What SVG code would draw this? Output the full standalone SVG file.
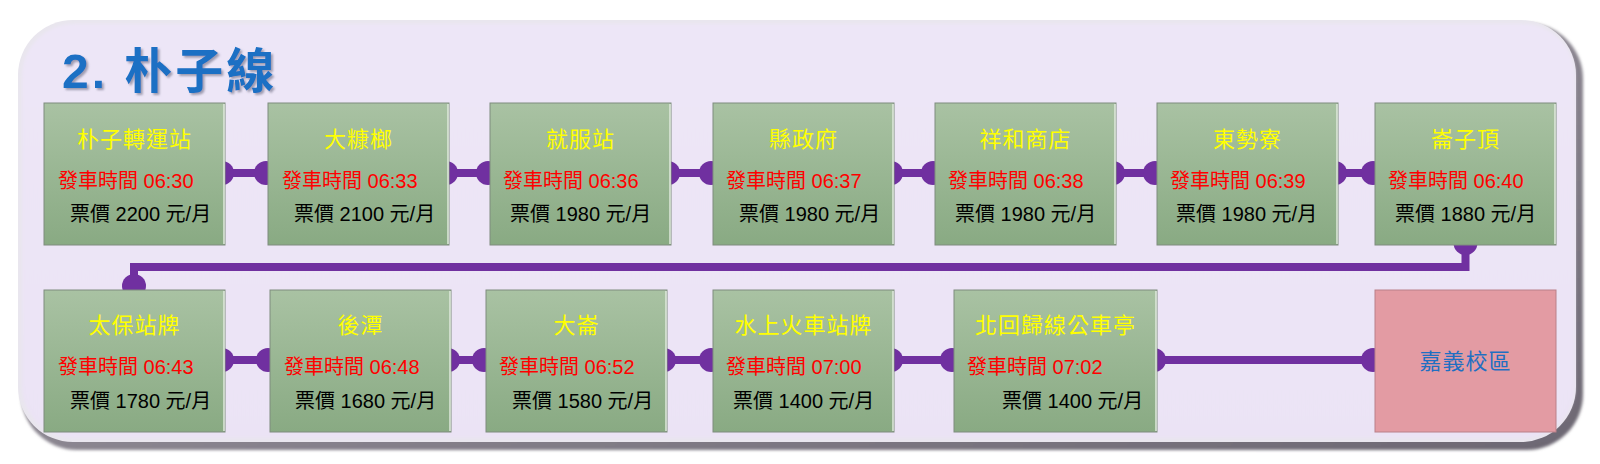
<svg xmlns="http://www.w3.org/2000/svg" width="1600" height="464" viewBox="0 0 1600 464">
<defs>
<linearGradient id="dark" x1="0" y1="0" x2="1" y2="1">
<stop offset="0" stop-color="#a9a4ae"/>
<stop offset="1" stop-color="#6c6772"/>
</linearGradient>
<linearGradient id="bg" x1="0" y1="0" x2="0" y2="1">
<stop offset="0" stop-color="#ede6f7"/>
<stop offset="1" stop-color="#ebe3f5"/>
</linearGradient>
<linearGradient id="box" x1="0" y1="0" x2="0" y2="1">
<stop offset="0" stop-color="#a9c2a3"/>
<stop offset="1" stop-color="#89aa83"/>
</linearGradient>
<filter id="soft" x="-2%" y="-5%" width="104%" height="110%">
<feGaussianBlur stdDeviation="1.5"/>
</filter>
<filter id="tshadow" x="-10%" y="-10%" width="130%" height="130%">
<feDropShadow dx="2" dy="2" stdDeviation="1.2" flood-color="#6b6b80" flood-opacity="0.6"/>
</filter>
</defs>
<style>
.box{fill:url(#box);stroke:#7f8c7f;stroke-width:1}
.hl{stroke:#dfe8dc;stroke-width:1.5}
.pink{fill:#e39ba3;stroke:#b98089;stroke-width:1}
.t{font-family:"Liberation Sans","Noto Sans CJK TC",sans-serif}
.name{font-size:22px;fill:#ffff00;text-anchor:middle;letter-spacing:1px}
.time{font-size:20px;fill:#ff0000}
.price{font-size:20px;fill:#000000}
.dest{font-size:22px;fill:#1f6fc2;text-anchor:middle;letter-spacing:1px}
.ln{stroke:#7030a0;stroke-width:8;fill:none}
.dot{fill:#7030a0}
</style>

<g id="frame">
<rect x="21" y="23" width="1562" height="427" rx="56" fill="url(#dark)" filter="url(#soft)"/>
<rect x="18" y="20" width="1558" height="422" rx="55" fill="#e9e6ee"/>
<rect x="22" y="24" width="1553" height="414" rx="52" fill="url(#bg)" filter="url(#soft)"/>
</g>

<g id="title">
<text x="62" y="88" class="t" font-family="&quot;Noto Sans CJK TC&quot;,sans-serif" font-size="48" font-weight="700" fill="#1a6fc4" letter-spacing="3" filter="url(#tshadow)">2. 朴子線</text>
</g>

<g id="connectors">
<g>
<line class="ln" x1="225" y1="173" x2="268" y2="173"/><circle class="dot" cx="222" cy="173" r="12"/><circle class="dot" cx="266" cy="173" r="12"/>
<line class="ln" x1="449" y1="173" x2="490" y2="173"/><circle class="dot" cx="446" cy="173" r="12"/><circle class="dot" cx="488" cy="173" r="12"/>
<line class="ln" x1="671" y1="173" x2="713" y2="173"/><circle class="dot" cx="668" cy="173" r="12"/><circle class="dot" cx="711" cy="173" r="12"/>
<line class="ln" x1="894" y1="173" x2="935" y2="173"/><circle class="dot" cx="891" cy="173" r="12"/><circle class="dot" cx="933" cy="173" r="12"/>
<line class="ln" x1="1116" y1="173" x2="1157" y2="173"/><circle class="dot" cx="1113" cy="173" r="12"/><circle class="dot" cx="1155" cy="173" r="12"/>
<line class="ln" x1="1338" y1="173" x2="1375" y2="173"/><circle class="dot" cx="1335" cy="173" r="12"/><circle class="dot" cx="1373" cy="173" r="12"/>
</g>
<g>
<path class="ln" d="M1465.5 245 V267 H134 V290"/>
<circle class="dot" cx="1465.5" cy="243" r="12"/>
<circle class="dot" cx="134" cy="286" r="12"/>
</g>
<g>
<line class="ln" x1="225" y1="360" x2="270" y2="360"/><circle class="dot" cx="222" cy="360" r="12"/><circle class="dot" cx="268" cy="360" r="12"/>
<line class="ln" x1="451" y1="360" x2="486" y2="360"/><circle class="dot" cx="448" cy="360" r="12"/><circle class="dot" cx="484" cy="360" r="12"/>
<line class="ln" x1="667" y1="360" x2="713" y2="360"/><circle class="dot" cx="664" cy="360" r="12"/><circle class="dot" cx="711" cy="360" r="12"/>
<line class="ln" x1="894" y1="360" x2="954" y2="360"/><circle class="dot" cx="891" cy="360" r="12"/><circle class="dot" cx="952" cy="360" r="12"/>
<line class="ln" x1="1157" y1="360" x2="1375" y2="360"/><circle class="dot" cx="1154" cy="360" r="12"/><circle class="dot" cx="1373" cy="360" r="12"/>
</g>
</g>

<g id="n1"><rect class="box" x="44" y="103" width="181" height="142"/><line class="hl" x1="224" y1="104" x2="224" y2="244"/>
<text class="t name" x="134.5" y="147">朴子轉運站</text>
<text class="t time" x="58" y="188">發車時間 06:30</text>
<text class="t price" x="70" y="221">票價 2200 元/月</text></g>

<g id="n2"><rect class="box" x="268" y="103" width="181" height="142"/><line class="hl" x1="448" y1="104" x2="448" y2="244"/>
<text class="t name" x="358.5" y="147">大糠榔</text>
<text class="t time" x="282" y="188">發車時間 06:33</text>
<text class="t price" x="294" y="221">票價 2100 元/月</text></g>

<g id="n3"><rect class="box" x="490" y="103" width="181" height="142"/><line class="hl" x1="670" y1="104" x2="670" y2="244"/>
<text class="t name" x="580.5" y="147">就服站</text>
<text class="t time" x="503" y="188">發車時間 06:36</text>
<text class="t price" x="510" y="221">票價 1980 元/月</text></g>

<g id="n4"><rect class="box" x="713" y="103" width="181" height="142"/><line class="hl" x1="893" y1="104" x2="893" y2="244"/>
<text class="t name" x="803.5" y="147">縣政府</text>
<text class="t time" x="726" y="188">發車時間 06:37</text>
<text class="t price" x="739" y="221">票價 1980 元/月</text></g>

<g id="n5"><rect class="box" x="935" y="103" width="181" height="142"/><line class="hl" x1="1115" y1="104" x2="1115" y2="244"/>
<text class="t name" x="1025.5" y="147">祥和商店</text>
<text class="t time" x="948" y="188">發車時間 06:38</text>
<text class="t price" x="955" y="221">票價 1980 元/月</text></g>

<g id="n6"><rect class="box" x="1157" y="103" width="181" height="142"/><line class="hl" x1="1337" y1="104" x2="1337" y2="244"/>
<text class="t name" x="1247.5" y="147">東勢寮</text>
<text class="t time" x="1170" y="188">發車時間 06:39</text>
<text class="t price" x="1176" y="221">票價 1980 元/月</text></g>

<g id="n7"><rect class="box" x="1375" y="103" width="181" height="142"/><line class="hl" x1="1555" y1="104" x2="1555" y2="244"/>
<text class="t name" x="1465.5" y="147">崙子頂</text>
<text class="t time" x="1388" y="188">發車時間 06:40</text>
<text class="t price" x="1395" y="221">票價 1880 元/月</text></g>

<g id="n8"><rect class="box" x="44" y="290" width="181" height="142"/><line class="hl" x1="224" y1="291" x2="224" y2="431"/>
<text class="t name" x="134.5" y="333">太保站牌</text>
<text class="t time" x="58" y="374">發車時間 06:43</text>
<text class="t price" x="70" y="408">票價 1780 元/月</text></g>

<g id="n9"><rect class="box" x="270" y="290" width="181" height="142"/><line class="hl" x1="450" y1="291" x2="450" y2="431"/>
<text class="t name" x="360.5" y="333">後潭</text>
<text class="t time" x="284" y="374">發車時間 06:48</text>
<text class="t price" x="295" y="408">票價 1680 元/月</text></g>

<g id="n10"><rect class="box" x="486" y="290" width="181" height="142"/><line class="hl" x1="666" y1="291" x2="666" y2="431"/>
<text class="t name" x="576.5" y="333">大崙</text>
<text class="t time" x="499" y="374">發車時間 06:52</text>
<text class="t price" x="512" y="408">票價 1580 元/月</text></g>

<g id="n11"><rect class="box" x="713" y="290" width="181" height="142"/><line class="hl" x1="893" y1="291" x2="893" y2="431"/>
<text class="t name" x="803.5" y="333">水上火車站牌</text>
<text class="t time" x="726" y="374">發車時間 07:00</text>
<text class="t price" x="733" y="408">票價 1400 元/月</text></g>

<g id="n12"><rect class="box" x="954" y="290" width="203" height="142"/><line class="hl" x1="1156" y1="291" x2="1156" y2="431"/>
<text class="t name" x="1055.5" y="333">北回歸線公車亭</text>
<text class="t time" x="967" y="374">發車時間 07:02</text>
<text class="t price" x="1002" y="408">票價 1400 元/月</text></g>

<g id="n13"><rect class="pink" x="1375" y="290" width="181" height="142"/>
<text class="t dest" x="1465.5" y="369">嘉義校區</text></g>
</svg>
